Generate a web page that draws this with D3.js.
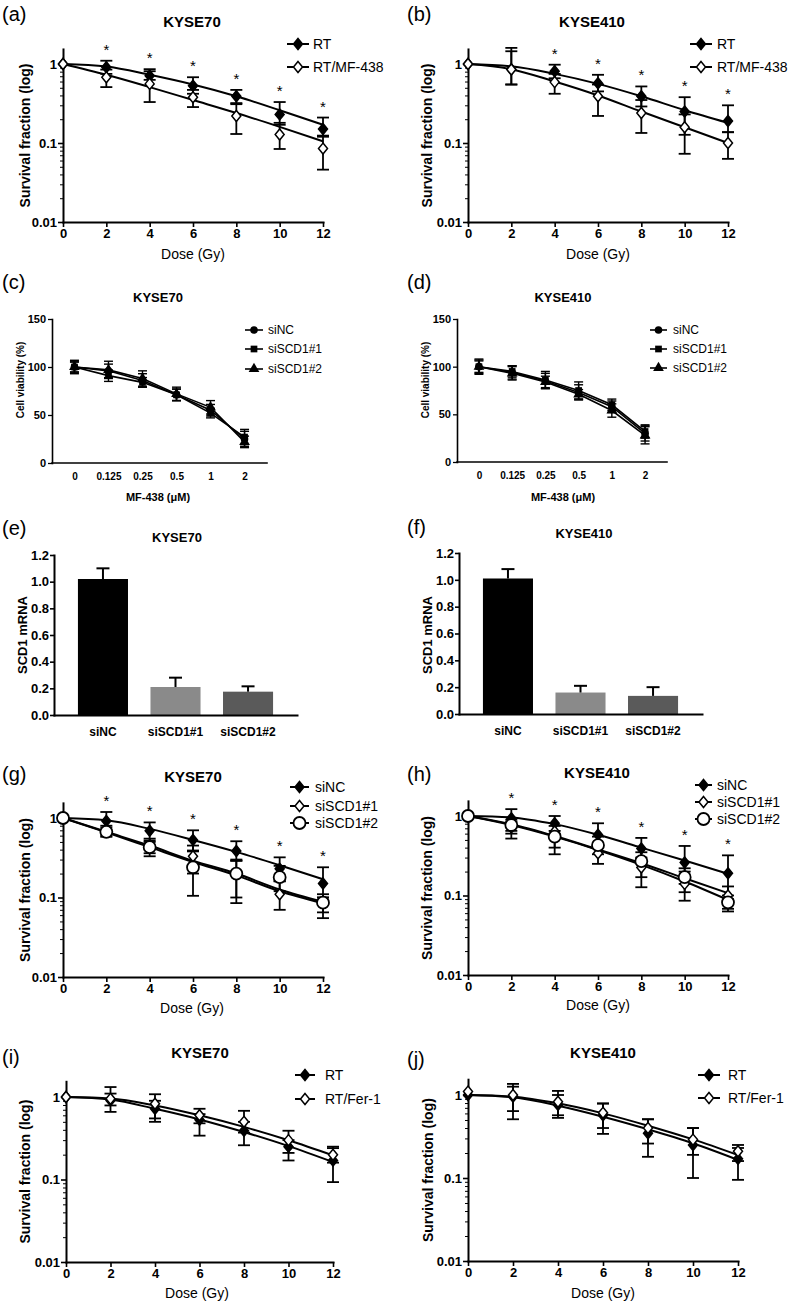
<!DOCTYPE html>
<html><head><meta charset="utf-8">
<script src="https://cdn.jsdelivr.net/npm/d3@7"></script>
<style>body{margin:0;background:#fff}svg{display:block}</style>
</head><body><svg id="c" width="800" height="1313"></svg>
<script>
const FONT = '"Liberation Sans", Arial, Helvetica, sans-serif';
// ---------- shared ticks ----------
const doses = [0,2,4,6,8,10,12];
const logTicks = [0.01,0.1,1];
const logTickLabels = ["0.01","0.1","1"];
const minorLogTicks = [0.02,0.03,0.04,0.05,0.06,0.07,0.08,0.09,0.2,0.3,0.4,0.5,0.6,0.7,0.8,0.9];
const yAxisMax = 1.55;
const conc = ["0","0.125","0.25","0.5","1","2"];
const viaTicks = [0,50,100,150];
const barCats = ["siNC","siSCD1#1","siSCD1#2"];
const barTicks = [0,0.2,0.4,0.6,0.8,1.0,1.2];

// ---------- (a) KYSE70 RT vs RT/MF-438 ----------
const a_RT_mean = [1,0.91,0.71,0.53,0.39,0.23,0.15];
const a_RT_hi = [null,1.10,0.86,0.68,0.47,0.33,0.21];
const a_RT_lo = [null,0.75,0.63,0.42,0.32,0.17,0.12];
const a_RT_fit = [1,0.93,0.73,0.55,0.39,0.26,0.17];
const a_MF_mean = [1,0.68,0.56,0.38,0.22,0.128,0.085];
const a_MF_hi = [null,0.85,0.81,0.47,0.31,0.18,0.124];
const a_MF_lo = [null,0.51,0.33,0.285,0.13,0.084,0.046];
const a_MF_fit = [1,0.73,0.51,0.35,0.24,0.16,0.105];
const a_stars = [2,4,6,8,10,12];
// ---------- (b) KYSE410 ----------
const b_RT_mean = [1,0.86,0.81,0.57,0.39,0.25,0.19];
const b_RT_hi = [null,1.6,0.98,0.73,0.52,0.38,0.30];
const b_RT_lo = [null,0.55,0.66,0.45,0.29,0.127,0.137];
const b_RT_fit = [1,0.935,0.75,0.56,0.39,0.26,0.18];
const b_MF_mean = [1,0.85,0.59,0.39,0.24,0.158,0.1];
const b_MF_hi = [null,1.45,0.75,0.55,0.35,0.23,0.137];
const b_MF_lo = [null,0.55,0.42,0.22,0.134,0.073,0.063];
const b_MF_fit = [1,0.86,0.6,0.4,0.25,0.158,0.1];
const b_stars = [4,6,8,10,12];
// ---------- (c) KYSE70 viability ----------
const c_NC = [100,96,86,71,55,25];
const c_NC_sd = [6,7,7,6,6,8];
const c_S1 = [100,91,84,71,52,27];
const c_S1_sd = [7,6,5,6,5,8];
const c_S2 = [100,97,88,72,58,22];
const c_S2_sd = [5,9,8,7,7,6];
// ---------- (d) KYSE410 viability ----------
const d_NC = [100,94,85,73,58,30];
const d_NC_sd = [8,7,8,8,6,8];
const d_S1 = [100,95,86,75,60,32];
const d_S1_sd = [6,6,9,9,6,7];
const d_S2 = [100,93,84,71,54,28];
const d_S2_sd = [7,7,6,5,7,9];
// ---------- (e)/(f) SCD1 mRNA ----------
const e_vals = [1.02,0.21,0.175];
const e_err = [0.08,0.07,0.04];
const f_vals = [1.01,0.16,0.135];
const f_err = [0.07,0.05,0.065];
const barColors = ["#000000","#8a8a8a","#5a5a5a"];
// ---------- (g) KYSE70 siRNA survival ----------
const g_NC_mean = [1,0.92,0.69,0.53,0.385,0.23,0.15];
const g_NC_hi = [null,1.19,0.88,0.70,0.51,0.32,0.24];
const g_NC_lo = [null,0.70,0.52,0.39,0.29,0.16,0.10];
const g_NC_fit = [1,0.935,0.73,0.53,0.375,0.255,0.17];
const g_S1_mean = [1,0.70,0.45,0.33,0.196,0.11,0.086];
const g_S1_hi = [null,0.80,0.55,0.45,0.29,0.16,0.11];
const g_S1_lo = [null,0.60,0.36,0.20,0.10,0.07,0.055];
const g_S1_fit = [1,0.67,0.45,0.29,0.20,0.126,0.088];
const g_S2_mean = [1,0.67,0.43,0.24,0.20,0.18,0.086];
const g_S2_hi = [null,0.76,0.50,0.38,0.30,0.25,0.10];
const g_S2_lo = [null,0.58,0.33,0.105,0.085,0.12,0.065];
const g_S2_fit = [1,0.66,0.43,0.28,0.19,0.12,0.085];
const g_stars = [2,4,6,8,10,12];
// ---------- (h) KYSE410 siRNA survival ----------
const h_NC_mean = [1,0.935,0.81,0.58,0.39,0.26,0.19];
const h_NC_hi = [null,1.22,1.0,0.81,0.53,0.42,0.32];
const h_NC_lo = [null,0.65,0.60,0.43,0.28,0.14,0.09];
const h_NC_fit = [1,0.96,0.79,0.58,0.40,0.275,0.187];
const h_S1_mean = [1,0.72,0.64,0.34,0.225,0.14,0.10];
const h_S1_hi = [null,0.85,0.75,0.45,0.30,0.20,0.13];
const h_S1_lo = [null,0.52,0.33,0.25,0.127,0.086,0.063];
const h_S1_fit = [1,0.77,0.55,0.374,0.243,0.15,0.088];
const h_S2_mean = [1,0.77,0.55,0.43,0.27,0.17,0.082];
const h_S2_hi = [null,0.90,0.65,0.55,0.35,0.22,0.10];
const h_S2_lo = [null,0.60,0.40,0.33,0.17,0.11,0.068];
const h_S2_fit = [1,0.786,0.56,0.38,0.255,0.165,0.107];
const h_stars = [2,4,6,8,10,12];
// ---------- (i) KYSE70 RT vs RT/Fer-1 ----------
const i_RT_mean = [1,0.91,0.72,0.53,0.39,0.25,0.17];
const i_RT_hi = [null,1.1,0.9,0.62,0.5,0.3,0.24];
const i_RT_lo = [null,0.66,0.5,0.34,0.26,0.17,0.093];
const i_RT_fit = [1,0.93,0.72,0.535,0.376,0.254,0.163];
const i_F_mean = [1,0.95,0.83,0.6,0.5,0.3,0.2];
const i_F_hi = [null,1.32,1.08,0.72,0.68,0.39,0.25];
const i_F_lo = [null,0.79,0.55,0.48,0.37,0.21,0.16];
const i_F_fit = [1,0.96,0.79,0.6,0.434,0.299,0.196];
// ---------- (j) KYSE410 RT vs RT/Fer-1 ----------
const j_RT_mean = [1,0.955,0.76,0.57,0.345,0.25,0.17];
const j_RT_hi = [null,1.26,1.0,0.79,0.51,0.4,0.23];
const j_RT_lo = [null,0.51,0.53,0.34,0.18,0.1,0.095];
const j_RT_fit = [1,0.937,0.744,0.548,0.386,0.262,0.165];
const j_F_mean = [1.1,1.0,0.83,0.61,0.4,0.29,0.21];
const j_F_hi = [null,1.36,1.12,0.79,0.51,0.4,0.25];
const j_F_lo = [null,0.64,0.57,0.4,0.26,0.19,0.16];
const j_F_fit = [1,0.955,0.794,0.601,0.427,0.292,0.189];

const svg = d3.select("#c");

function styleAxis(sel, fs, bold, sw) {
  sel.attr("font-family", FONT).attr("font-size", fs).attr("font-weight", bold ? "bold" : "normal");
  sel.select(".domain").attr("stroke-width", sw).attr("stroke-linecap", "square");
  sel.selectAll(".tick line").attr("stroke-width", sw * 0.8);
  sel.selectAll(".tick text").attr("fill", "#000");
}
function txt(x, y, t, o = {}) {
  const e = svg.append("text").attr("x", x).attr("y", y).attr("font-family", FONT)
    .attr("font-size", o.fs || 14).attr("font-weight", o.bold ? "bold" : "normal")
    .attr("text-anchor", o.anchor || "start").attr("fill", "#000");
  if (o.dy) e.attr("dy", o.dy);
  if (o.rot) e.attr("transform", `rotate(-90,${x},${y})`);
  e.text(t);
  return e;
}
function drawMarker(g, type, cx, cy) {
  if (type === "ocircle") {
    g.append("circle").attr("cx", cx).attr("cy", cy).attr("r", 6)
      .attr("fill", "#fff").attr("stroke", "#000").attr("stroke-width", 1.8);
  } else {
    g.append("path").attr("d", "M0,-5.5L4.5,0L0,5.5L-4.5,0Z")
      .attr("transform", `translate(${cx},${cy})`)
      .attr("fill", type === "fdiamond" ? "#000" : "#fff")
      .attr("stroke", "#000").attr("stroke-width", 1.5);
  }
}
function errBar(g, cx, y0, y1, cap, sw) {
  g.append("line").attr("x1", cx).attr("x2", cx).attr("y1", y0).attr("y2", y1).attr("stroke", "#000").attr("stroke-width", sw);
  [y0, y1].forEach(yy => g.append("line").attr("x1", cx - cap / 2).attr("x2", cx + cap / 2)
    .attr("y1", yy).attr("y2", yy).attr("stroke", "#000").attr("stroke-width", sw));
}

function drawSurvival(p) {
  const g = svg.append("g");
  const dec = (p.yB - p.y1) / 2;
  const yTopPix = p.y1 - dec * Math.log10(yAxisMax);
  const x = d3.scaleLinear().domain([0, 12]).range([p.x0, p.x12]);
  const y = d3.scaleLog().domain([0.01, yAxisMax]).range([p.yB, yTopPix]);
  const mg = g.append("g").attr("transform", `translate(${p.x0},0)`)
    .call(d3.axisLeft(y).tickValues(minorLogTicks).tickSize(3).tickFormat(""));
  mg.select(".domain").remove();
  mg.selectAll(".tick line").attr("stroke-width", 1);
  const ya = g.append("g").attr("transform", `translate(${p.x0},0)`)
    .call(d3.axisLeft(y).tickValues(logTicks).tickFormat((d, i) => logTickLabels[i]).tickSize(5).tickSizeOuter(0).tickPadding(1));
  styleAxis(ya, 13, true, 2);
  const xa = g.append("g").attr("transform", `translate(0,${p.yB})`)
    .call(d3.axisBottom(x).tickValues(doses).tickSize(5).tickSizeOuter(0).tickPadding(2));
  styleAxis(xa, 13, true, 2);
  p.series.forEach(s => doses.forEach((d, i) => {
    if (s.hi[i] == null) return;
    errBar(g, x(d), y(s.lo[i]), y(s.hi[i]), 12, 1.8);
  }));
  const line = d3.line().x(d => x(d[0])).y(d => y(d[1])).curve(d3.curveMonotoneX);
  p.series.forEach(s => g.append("path").attr("d", line(doses.map((d, i) => [d, s.fit[i]])))
    .attr("fill", "none").attr("stroke", "#000").attr("stroke-width", 2));
  p.series.forEach(s => doses.forEach((d, i) => drawMarker(g, s.sym, x(d), y(s.mean[i]))));
  (p.stars || []).forEach(d => {
    const i = doses.indexOf(d);
    const top = d3.max(p.series, s => s.hi[i] != null ? s.hi[i] : s.mean[i]);
    txt(x(d), y(top) - 6, "*", { fs: 15, anchor: "middle" });
  });
  txt(p.titleX, p.titleY, p.title, { fs: 15, bold: true, anchor: "middle", dy: "0.35em" });
  txt(p.doseX, p.doseY, "Dose (Gy)", { fs: 14, anchor: "middle", dy: "0.35em" });
  txt(p.ylx, (yTopPix + p.yB) / 2, "Survival fraction (log)", { fs: 14, bold: true, anchor: "middle", dy: "0.35em", rot: true });
  p.series.forEach((s, k) => {
    const ly = p.leg.ys[k];
    g.append("line").attr("x1", p.leg.x0).attr("x2", p.leg.x1).attr("y1", ly).attr("y2", ly).attr("stroke", "#000").attr("stroke-width", 2);
    drawMarker(g, s.sym, (p.leg.x0 + p.leg.x1) / 2, ly);
    txt(p.leg.tx, ly, s.name, { fs: 14, dy: "0.35em" });
  });
}

function vMarker(g, type, cx, cy) {
  const sym = { circle: d3.symbolCircle, square: d3.symbolSquare, triangle: d3.symbolTriangle }[type];
  g.append("path").attr("d", d3.symbol(sym, type === "triangle" ? 50 : 45)())
    .attr("transform", `translate(${cx},${cy})`).attr("fill", "#000");
}
function drawViability(p) {
  const g = svg.append("g");
  const x = d3.scalePoint().domain(conc).range([p.xA, p.xE]).padding(0.66);
  const y = d3.scaleLinear().domain([0, 150]).range([p.yB, p.yT]);
  const ya = g.append("g").attr("transform", `translate(${p.xA},0)`)
    .call(d3.axisLeft(y).tickValues(viaTicks).tickSize(4).tickSizeOuter(0).tickPadding(2));
  styleAxis(ya, 11, true, 1.6);
  const xa = g.append("g").attr("transform", `translate(0,${p.yB})`)
    .call(d3.axisBottom(x).tickSize(0).tickSizeOuter(0).tickPadding(10));
  styleAxis(xa, 10, true, 1.6);
  xa.select(".domain").attr("d", `M${p.xA},0H${p.xE}`);
  p.series.forEach(s => conc.forEach((c, i) => errBar(g, x(c), y(s.v[i] - s.sd[i]), y(s.v[i] + s.sd[i]), 9, 1.4)));
  const line = d3.line().x((d, i) => x(conc[i])).y(d => y(d));
  p.series.forEach(s => g.append("path").attr("d", line(s.v)).attr("fill", "none").attr("stroke", "#000").attr("stroke-width", 1.6));
  p.series.forEach(s => conc.forEach((c, i) => vMarker(g, s.sym, x(c), y(s.v[i]))));
  txt(p.titleX, 297, p.title, { fs: 13, bold: true, anchor: "middle", dy: "0.35em" });
  txt(p.titleX, 497, "MF-438 (μM)", { fs: 11, bold: true, anchor: "middle", dy: "0.35em" });
  txt(p.ylx, 380, "Cell viability (%)", { fs: 10, bold: true, anchor: "middle", dy: "0.35em", rot: true });
  p.series.forEach((s, k) => {
    const ly = p.leg.ys[k];
    g.append("line").attr("x1", p.leg.x0).attr("x2", p.leg.x1).attr("y1", ly).attr("y2", ly).attr("stroke", "#000").attr("stroke-width", 1.6);
    vMarker(g, s.sym, (p.leg.x0 + p.leg.x1) / 2, ly);
    txt(p.leg.tx, ly, s.name, { fs: 12, dy: "0.35em" });
  });
}

function drawBars(p) {
  const g = svg.append("g");
  const x = d3.scaleBand().domain(barCats).range([p.xA, p.xE]).paddingInner(0.31).paddingOuter(0.33);
  const y = d3.scaleLinear().domain([0, 1.2]).range([p.yB, p.yT]);
  g.selectAll("rect").data(p.vals).enter().append("rect")
    .attr("x", (d, i) => x(barCats[i])).attr("width", x.bandwidth())
    .attr("y", d => y(d)).attr("height", d => p.yB - y(d))
    .attr("fill", (d, i) => barColors[i]);
  p.vals.forEach((v, i) => {
    const cx = x(barCats[i]) + x.bandwidth() / 2;
    g.append("line").attr("x1", cx).attr("x2", cx).attr("y1", y(v)).attr("y2", y(v + p.err[i])).attr("stroke", "#000").attr("stroke-width", 2);
    g.append("line").attr("x1", cx - 6.5).attr("x2", cx + 6.5).attr("y1", y(v + p.err[i])).attr("y2", y(v + p.err[i])).attr("stroke", "#000").attr("stroke-width", 2);
  });
  const ya = g.append("g").attr("transform", `translate(${p.xA},0)`)
    .call(d3.axisLeft(y).tickValues(barTicks).tickFormat(d3.format(".1f")).tickSize(4).tickSizeOuter(0).tickPadding(1));
  styleAxis(ya, 13, true, 2);
  const xa = g.append("g").attr("transform", `translate(0,${p.yB})`)
    .call(d3.axisBottom(x).tickSize(0).tickSizeOuter(0).tickPadding(12));
  styleAxis(xa, 12, true, 2);
  txt(p.titleX, p.titleY, p.title, { fs: 13, bold: true, anchor: "middle", dy: "0.35em" });
  txt(p.ylx, 635, "SCD1 mRNA", { fs: 13, bold: true, anchor: "middle", dy: "0.35em", rot: true });
}

// panel letters
[["(a)",2,21],["(b)",407,21],["(c)",2,289],["(d)",407,289],["(e)",2,535],["(f)",407,534],["(g)",2,781],["(h)",407,781],["(i)",2,1064],["(j)",407,1066]]
  .forEach(([t, x, y]) => txt(x, y, t, { fs: 20 }));

drawSurvival({ x0: 63, x12: 323, y1: 64, yB: 222, title: "KYSE70", titleX: 192, titleY: 22, doseX: 193, doseY: 254, ylx: 25,
  stars: a_stars, leg: { x0: 287, x1: 309, tx: 313, ys: [44, 67] },
  series: [
    { name: "RT", sym: "fdiamond", mean: a_RT_mean, hi: a_RT_hi, lo: a_RT_lo, fit: a_RT_fit },
    { name: "RT/MF-438", sym: "odiamond", mean: a_MF_mean, hi: a_MF_hi, lo: a_MF_lo, fit: a_MF_fit }] });
drawSurvival({ x0: 468, x12: 728, y1: 64, yB: 222, title: "KYSE410", titleX: 592, titleY: 22, doseX: 598, doseY: 254, ylx: 427,
  stars: b_stars, leg: { x0: 690, x1: 712, tx: 717, ys: [44, 67] },
  series: [
    { name: "RT", sym: "fdiamond", mean: b_RT_mean, hi: b_RT_hi, lo: b_RT_lo, fit: b_RT_fit },
    { name: "RT/MF-438", sym: "odiamond", mean: b_MF_mean, hi: b_MF_hi, lo: b_MF_lo, fit: b_MF_fit }] });

drawViability({ xA: 52, xE: 267, yB: 463, yT: 319, title: "KYSE70", titleX: 158, ylx: 20,
  leg: { x0: 245, x1: 263, tx: 268, ys: [330, 349, 369] },
  series: [
    { name: "siNC", sym: "circle", v: c_NC, sd: c_NC_sd },
    { name: "siSCD1#1", sym: "square", v: c_S1, sd: c_S1_sd },
    { name: "siSCD1#2", sym: "triangle", v: c_S2, sd: c_S2_sd }] });
drawViability({ xA: 457, xE: 667, yB: 462, yT: 319, title: "KYSE410", titleX: 563, ylx: 425,
  leg: { x0: 650, x1: 667, tx: 673, ys: [330, 349, 368] },
  series: [
    { name: "siNC", sym: "circle", v: d_NC, sd: d_NC_sd },
    { name: "siSCD1#1", sym: "square", v: d_S1, sd: d_S1_sd },
    { name: "siSCD1#2", sym: "triangle", v: d_S2, sd: d_S2_sd }] });

drawBars({ xA: 54, xE: 297, yB: 715, yT: 555, vals: e_vals, err: e_err, title: "KYSE70", titleX: 177, titleY: 537, ylx: 22 });
drawBars({ xA: 459, xE: 702, yB: 714, yT: 553, vals: f_vals, err: f_err, title: "KYSE410", titleX: 584, titleY: 533, ylx: 427 });

drawSurvival({ x0: 63, x12: 323, y1: 818, yB: 977, title: "KYSE70", titleX: 193, titleY: 777, doseX: 192, doseY: 1008, ylx: 25,
  stars: g_stars, leg: { x0: 290, x1: 309, tx: 315, ys: [787, 806, 823] },
  series: [
    { name: "siNC", sym: "fdiamond", mean: g_NC_mean, hi: g_NC_hi, lo: g_NC_lo, fit: g_NC_fit },
    { name: "siSCD1#1", sym: "odiamond", mean: g_S1_mean, hi: g_S1_hi, lo: g_S1_lo, fit: g_S1_fit },
    { name: "siSCD1#2", sym: "ocircle", mean: g_S2_mean, hi: g_S2_hi, lo: g_S2_lo, fit: g_S2_fit }] });
drawSurvival({ x0: 468, x12: 728, y1: 816, yB: 975, title: "KYSE410", titleX: 597, titleY: 773, doseX: 598, doseY: 1005, ylx: 427,
  stars: h_stars, leg: { x0: 695, x1: 712, tx: 717, ys: [785, 802, 819] },
  series: [
    { name: "siNC", sym: "fdiamond", mean: h_NC_mean, hi: h_NC_hi, lo: h_NC_lo, fit: h_NC_fit },
    { name: "siSCD1#1", sym: "odiamond", mean: h_S1_mean, hi: h_S1_hi, lo: h_S1_lo, fit: h_S1_fit },
    { name: "siSCD1#2", sym: "ocircle", mean: h_S2_mean, hi: h_S2_hi, lo: h_S2_lo, fit: h_S2_fit }] });

drawSurvival({ x0: 66, x12: 333, y1: 1097, yB: 1262, title: "KYSE70", titleX: 200, titleY: 1053, doseX: 197, doseY: 1293, ylx: 25,
  stars: [], leg: { x0: 295, x1: 315, tx: 325, ys: [1075, 1099] },
  series: [
    { name: "RT", sym: "fdiamond", mean: i_RT_mean, hi: i_RT_hi, lo: i_RT_lo, fit: i_RT_fit },
    { name: "RT/Fer-1", sym: "odiamond", mean: i_F_mean, hi: i_F_hi, lo: i_F_lo, fit: i_F_fit }] });
drawSurvival({ x0: 468, x12: 738, y1: 1095, yB: 1261, title: "KYSE410", titleX: 603, titleY: 1053, doseX: 603, doseY: 1293, ylx: 428,
  stars: [], leg: { x0: 698, x1: 720, tx: 728, ys: [1075, 1098] },
  series: [
    { name: "RT", sym: "fdiamond", mean: j_RT_mean, hi: j_RT_hi, lo: j_RT_lo, fit: j_RT_fit },
    { name: "RT/Fer-1", sym: "odiamond", mean: j_F_mean, hi: j_F_hi, lo: j_F_lo, fit: j_F_fit }] });
</script></body></html>
